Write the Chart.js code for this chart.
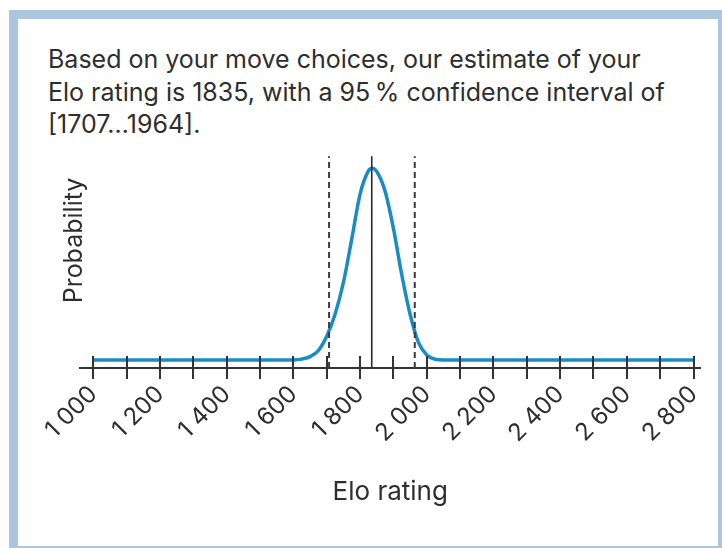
<!DOCTYPE html>
<html lang="en">
<head>
<meta charset="utf-8">
<title>Elo rating estimate</title>
<script src="https://cdn.jsdelivr.net/npm/chart.js@4.4.1/dist/chart.umd.min.js"></script>
<style>
    html, body { margin: 0; padding: 0; background: #fff; }
    body { width: 722px; height: 548px; position: relative; overflow: hidden; font-family: Inter, 'Liberation Sans', sans-serif; }
    .moldura {
        position: absolute; left: 9px; top: 10px; right: 0; bottom: 0;
        border-style: solid; border-color: #abc6e1; border-width: 9px 4px 2px 9px;
        background: #fff;
    }
    .texto {
        position: absolute; left: 30px; top: 24px; margin: 0;
        font-size: 25px; line-height: 32.5px; color: #2e2e2e; white-space: nowrap;
    }
    .caixa-grafico { position: absolute; left: 0; top: 0; width: 700px; height: 527px; }
</style>
</head>
<body>
<div class="moldura">
    <p class="texto">Based on your move choices, our estimate of your<br>Elo rating is 1835, with a 95&#8201;% confidence interval of<br>[1707…1964].</p>
    <div class="caixa-grafico"><canvas id="grafico"></canvas></div>
</div>

<script>
// curva de probabilidade (pico = 100)
const eloPontos = [1000, 1100, 1200, 1300, 1400, 1500, 1600, 1625, 1650, 1675, 1700, 1725, 1750, 1775, 1800,
                   1825, 1835, 1850, 1875, 1900, 1925, 1950, 1975, 2000, 2025, 2050, 2200, 2400, 2600, 2800];
const probabilidade = [0, 0, 0, 0, 0, 0, 0, 0.4, 1.7, 4.9, 12.3, 23.8, 40.4, 63, 86.5,
                       98.6, 100, 98.3, 88, 68.6, 44.4, 23.8, 9.1, 2.5, 0.3, 0, 0, 0, 0, 0];

const eloEstimado = 1835;
const intervalo95 = [1707, 1964];

const valoresTicks = [1000, 1100, 1200, 1300, 1400, 1500, 1600, 1700, 1800, 1900,
                      2000, 2100, 2200, 2300, 2400, 2500, 2600, 2700, 2800];
const ticksComRotulo = [1000, 1200, 1400, 1600, 1800, 2000, 2200, 2400, 2600, 2800];

const yMin = -4.2, yMax = 128.8, topoLinhas = 106.3;

function formatarElo(valor) {
    return Math.floor(valor / 1000) + '\u00A0' + String(valor % 1000).padStart(3, '0');
}

function linhaVertical(x, tracejada) {
    return {
        data: [{ x: x, y: yMin }, { x: x, y: topoLinhas }],
        borderColor: tracejada ? '#3a3a3a' : '#2b2b2b',
        borderWidth: tracejada ? 2 : 1.6,
        borderDash: tracejada ? [6, 4] : [],
        pointRadius: 0,
        order: 0
    };
}

// marcas do eixo x atravessando a linha do eixo
const marcasEixo = {
    id: 'marcasEixo',
    afterDatasetsDraw(chart) {
        const { ctx, scales: { x } } = chart;
        ctx.save();
        ctx.strokeStyle = '#333';
        ctx.lineWidth = 2;
        x.ticks.forEach(t => {
            const px = Math.round(x.getPixelForValue(t.value));
            ctx.beginPath();
            ctx.moveTo(px, x.top - 12);
            ctx.lineTo(px, x.top + 11);
            ctx.stroke();
        });
        ctx.restore();
    }
};

const curva = eloPontos.map((e, i) => ({ x: e, y: probabilidade[i] }));

new Chart(document.getElementById('grafico').getContext('2d'), {
    type: 'line',
    data: {
        datasets: [
            linhaVertical(eloEstimado, false),
            linhaVertical(intervalo95[0], true),
            linhaVertical(intervalo95[1], true),
            {
                data: curva,
                borderColor: '#1a8bc6',
                borderWidth: 3.5,
                pointRadius: 0,
                cubicInterpolationMode: 'monotone',
                order: 1
            }
        ]
    },
    options: {
        responsive: true, maintainAspectRatio: false, animation: false,
        layout: { padding: { top: 94, left: 41, right: 11, bottom: 38 } },
        plugins: { legend: { display: false }, tooltip: { enabled: false } },
        scales: {
            x: {
                type: 'linear', min: 960, max: 2821,
                afterBuildTicks: s => { s.ticks = valoresTicks.map(v => ({ value: v })); },
                grid: { display: false },
                border: { display: true, color: '#333', width: 2 },
                ticks: {
                    autoSkip: false, minRotation: 45, maxRotation: 45, padding: 4,
                    color: '#2e2e2e', font: { family: 'Inter', size: 24 },
                    callback: v => ticksComRotulo.includes(v) ? formatarElo(v) : ''
                },
                title: {
                    display: true, text: 'Elo rating', color: '#2e2e2e',
                    font: { family: 'Inter', size: 26 }, padding: { top: 25, bottom: 0 }
                }
            },
            y: {
                min: yMin, max: yMax,
                grid: { display: false, drawTicks: false },
                border: { display: false },
                ticks: { display: false },
                title: {
                    display: true, text: 'Probability', color: '#2e2e2e',
                    font: { family: 'Inter', size: 25 }, padding: { top: 0, bottom: -9 }
                }
            }
        }
    },
    plugins: [marcasEixo]
});
</script>
</body>
</html>
